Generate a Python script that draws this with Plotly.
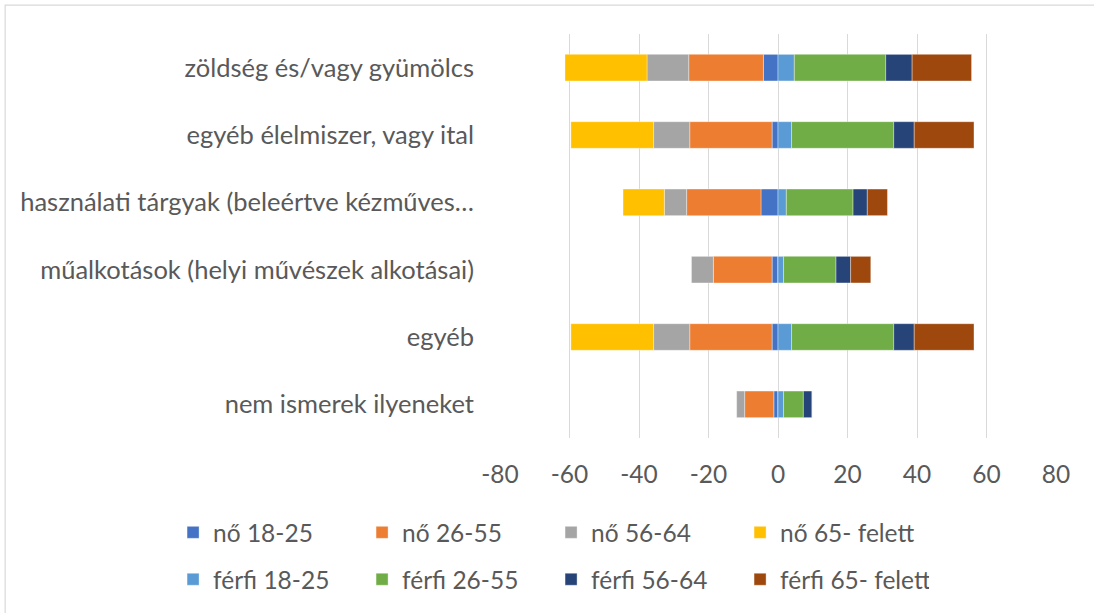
import plotly.graph_objects as go

# Categories (top to bottom)
categories = [
    "zöldség és/vagy gyümölcs",
    "egyéb élelmiszer, vagy ital",
    "használati tárgyak (beleértve kézműves…",
    "műalkotások (helyi művészek alkotásai)",
    "egyéb",
    "nem ismerek ilyeneket",
]

# Women (plotted to the left, negative)
no_18_25 = [-4.2, -1.7, -4.9, -1.7, -1.7, -1.2]
no_26_55 = [-21.5, -23.7, -21.4, -16.9, -23.7, -8.4]
no_56_64 = [-12.0, -10.4, -6.4, -6.3, -10.4, -2.3]
no_65_felett = [-23.6, -23.8, -11.9, 0, -23.8, 0]

# Men (plotted to the right, positive)
ferfi_18_25 = [4.7, 3.9, 2.4, 1.6, 3.9, 1.6]
ferfi_26_55 = [26.3, 29.4, 19.2, 15.1, 29.4, 5.7]
ferfi_56_64 = [7.6, 5.9, 4.1, 4.2, 5.9, 2.5]
ferfi_65_felett = [17.1, 17.2, 5.8, 5.8, 17.2, 0]

x_ticks = [-80, -60, -40, -20, 0, 20, 40, 60, 80]

series = [
    ("nő 18-25", no_18_25, "#4472C4", "legend"),
    ("nő 26-55", no_26_55, "#ED7D31", "legend"),
    ("nő 56-64", no_56_64, "#A5A5A5", "legend"),
    ("nő 65- felett", no_65_felett, "#FFC000", "legend"),
    ("férfi 18-25", ferfi_18_25, "#5B9BD5", "legend2"),
    ("férfi 26-55", ferfi_26_55, "#70AD47", "legend2"),
    ("férfi 56-64", ferfi_56_64, "#264478", "legend2"),
    ("férfi 65- felett", ferfi_65_felett, "#9E480E", "legend2"),
]

FONT = "Lato"
TEXT = "#595959"

fig = go.Figure()
for name, vals, color, lg in series:
    fig.add_trace(go.Bar(
        y=categories, x=vals, name=name, orientation="h",
        marker=dict(color=color, line=dict(color="rgba(255,255,255,0.6)", width=0.6)),
        legend=lg,
    ))

legend_common = dict(
    orientation="h", xanchor="left", yanchor="middle",
    font=dict(family=FONT, size=24.5, color=TEXT),
    entrywidth=144, bgcolor="rgba(0,0,0,0)", traceorder="normal",
)

fig.update_layout(
    width=1094, height=613,
    margin=dict(l=500, r=38, t=34, b=174),
    barmode="relative", bargap=0.605,
    paper_bgcolor="white", plot_bgcolor="white",
    font=dict(family=FONT, size=24, color=TEXT),
    xaxis=dict(
        range=[-80, 80], tickvals=x_ticks, ticktext=[str(v) for v in x_ticks],
        showgrid=True, gridcolor="#D9D9D9", gridwidth=1.3,
        zeroline=False, showline=False, ticks="",
        tickfont=dict(family=FONT, size=24.5, color=TEXT),
        ticklabelstandoff=19, fixedrange=True,
    ),
    yaxis=dict(
        autorange="reversed", showgrid=False, zeroline=False, showline=False,
        ticks="", tickfont=dict(family=FONT, size=25.5, color=TEXT),
        ticklabelstandoff=25, fixedrange=True,
    ),
    legend=dict(x=-0.588, y=-0.2306, **legend_common),
    legend2=dict(x=-0.588, y=-0.3465, **legend_common),
    shapes=[dict(
        type="rect", xref="paper", yref="paper",
        x0=-0.89, x1=1.2, y0=-0.6, y1=1.0715,
        line=dict(color="#D9D9D9", width=1.2), fillcolor="rgba(0,0,0,0)", layer="below",
    )],
)

fig.write_html("out.html")
